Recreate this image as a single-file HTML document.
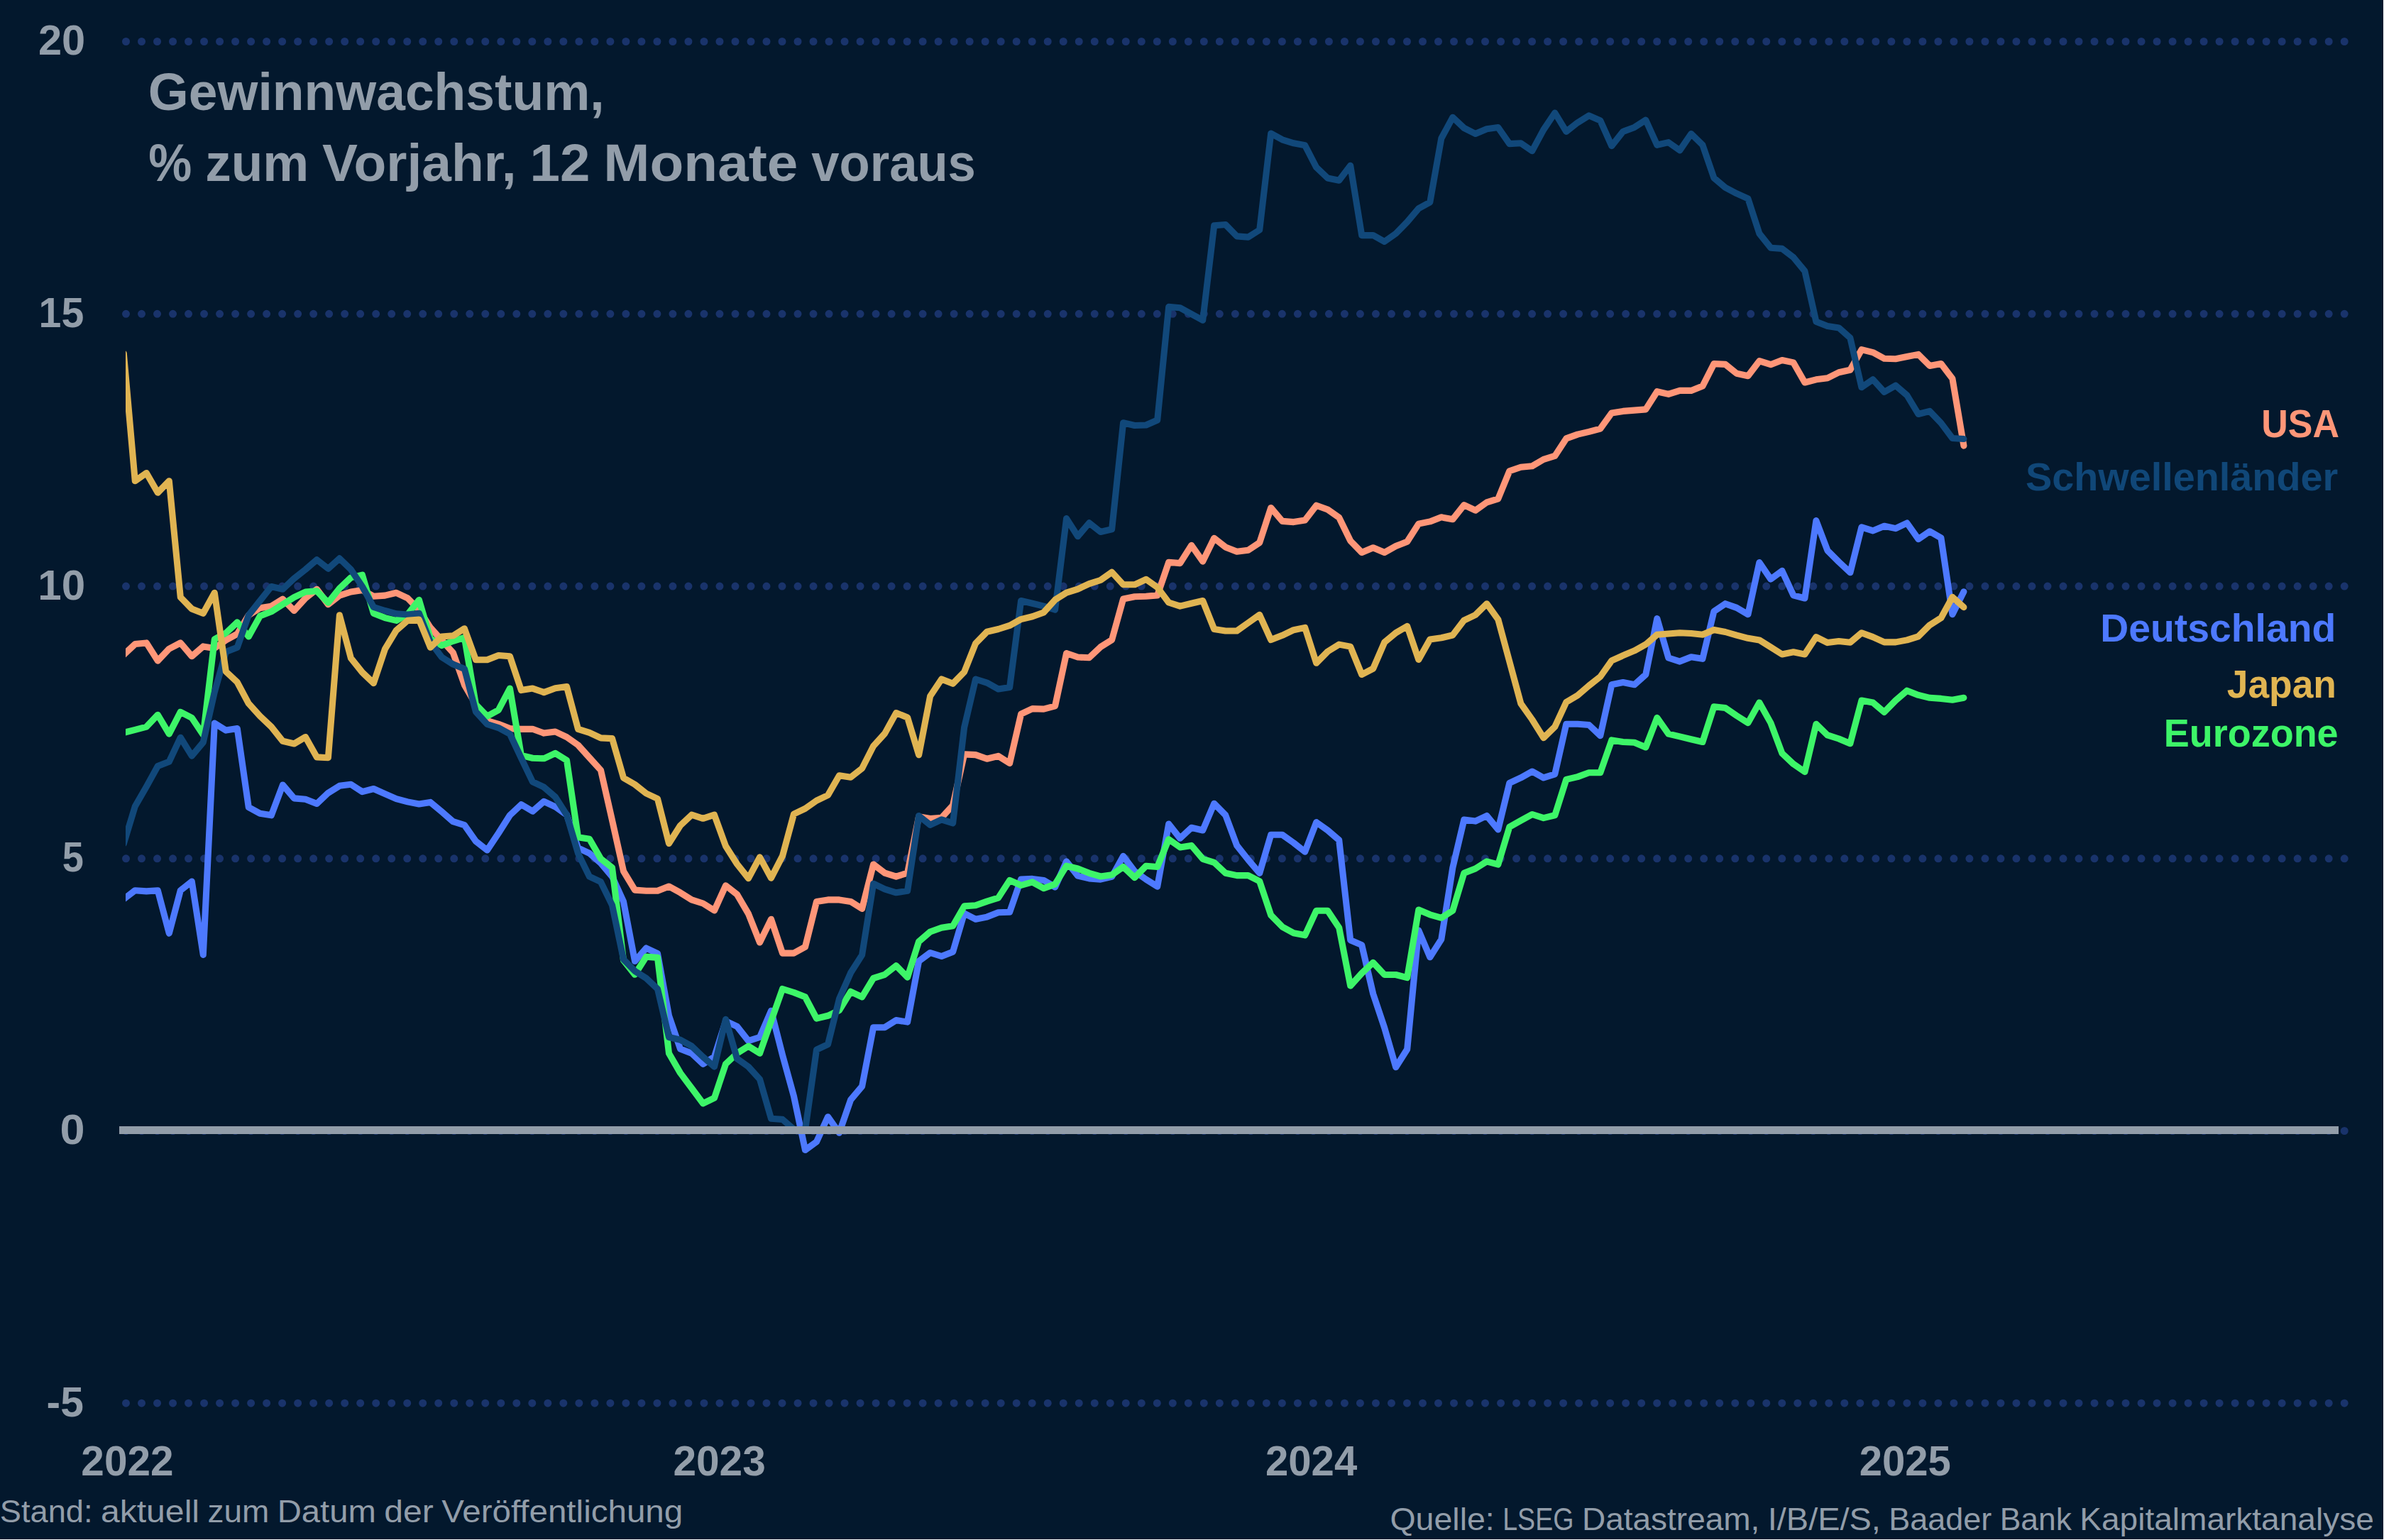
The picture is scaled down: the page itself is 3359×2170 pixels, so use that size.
<!DOCTYPE html>
<html lang="de"><head><meta charset="utf-8"><title>Gewinnwachstum</title>
<style>
html,body{margin:0;padding:0;background:#fff;}
body{width:3359px;height:2170px;overflow:hidden;}
svg{display:block;}
text{font-family:"Liberation Sans",sans-serif;fill:#929da9;}
.b{font-weight:bold;}
.ln{fill:none;stroke-width:9.1;stroke-linejoin:round;stroke-linecap:round;}
</style></head><body>
<svg width="3359" height="2170" viewBox="0 0 3359 2170">
<rect x="0" y="0" width="3359" height="2170" fill="#ffffff"/>
<rect x="0" y="0" width="3358" height="2169" fill="#03182d"/>
<defs><clipPath id="plot"><rect x="177" y="0" width="3130" height="2100"/></clipPath></defs>

<g stroke="#19336b" stroke-width="11" stroke-linecap="round" stroke-dasharray="0 22.012" fill="none">
<path d="M177.5 58.5H3304"/>
<path d="M177.5 442.3H3304"/>
<path d="M177.5 826.1H3304"/>
<path d="M177.5 1209.8H3304"/>
<path d="M177.5 1593.5H3304"/>
<path d="M177.5 1977.2H3304"/>
</g>
<g clip-path="url(#plot)">
<polyline class="ln" stroke="#ff9678" points="174.3,922.6 190.3,907.6 206.3,905.9 222.3,931.1 238.3,914.2 254.3,905.9 270.3,924.8 286.3,910.9 302.3,913.4 318.3,902.1 334.3,893.3 350.3,866.8 366.3,856.7 382.3,854.2 398.4,844.1 414.4,860.5 430.4,842.9 446.4,830.3 462.4,851.7 478.4,839.1 494.4,834.0 510.4,831.5 526.4,840.3 542.4,839.1 558.4,835.3 574.4,842.9 590.4,859.2 606.4,884.4 622.4,902.1 638.4,919.7 654.4,965.1 670.4,992.8 686.4,1015.5 702.4,1020.3 718.4,1026.6 734.4,1027.4 750.4,1027.3 766.4,1033.1 782.4,1031.0 798.5,1038.6 814.5,1049.9 830.5,1067.6 846.5,1085.2 862.5,1155.8 878.5,1227.6 894.5,1254.1 910.5,1255.3 926.5,1255.3 942.5,1249.0 958.5,1257.8 974.5,1267.9 990.5,1273.0 1006.5,1283.0 1022.5,1247.8 1038.5,1260.4 1054.5,1287.6 1070.5,1328.0 1086.5,1295.2 1102.5,1343.1 1118.5,1343.1 1134.5,1334.3 1150.5,1270.4 1166.5,1267.9 1182.5,1267.9 1198.6,1270.4 1214.6,1280.5 1230.6,1218.0 1246.6,1230.1 1262.6,1235.2 1278.6,1230.1 1294.6,1150.7 1310.6,1153.6 1326.6,1152.3 1342.6,1134.7 1358.6,1062.9 1374.6,1063.6 1390.6,1069.2 1406.6,1065.4 1422.6,1075.5 1438.6,1006.2 1454.6,998.6 1470.6,999.1 1486.6,994.8 1502.6,920.5 1518.6,926.0 1534.6,926.8 1550.6,911.7 1566.6,901.6 1582.6,844.0 1598.7,840.7 1614.7,840.2 1630.7,838.9 1646.7,792.3 1662.7,793.6 1678.7,768.4 1694.7,791.1 1710.7,758.3 1726.7,770.9 1742.7,777.2 1758.7,775.2 1774.7,764.6 1790.7,715.5 1806.7,734.4 1822.7,735.6 1838.7,733.1 1854.7,712.2 1870.7,718.0 1886.7,729.3 1902.7,762.1 1918.7,778.5 1934.7,771.7 1950.7,778.5 1966.7,769.6 1982.7,763.3 1998.8,738.1 2014.8,734.9 2030.8,728.8 2046.8,731.8 2062.8,711.7 2078.8,719.2 2094.8,707.9 2110.8,702.9 2126.8,663.8 2142.8,658.3 2158.8,656.7 2174.8,647.4 2190.8,642.4 2206.8,617.9 2222.8,612.1 2238.8,608.4 2254.8,604.1 2270.8,581.9 2286.8,579.4 2302.8,578.1 2318.8,576.9 2334.8,551.7 2350.8,555.4 2366.8,550.4 2382.8,550.4 2398.9,544.1 2414.9,512.6 2430.9,513.4 2446.9,526.3 2462.9,529.7 2478.9,508.7 2494.9,513.7 2510.9,507.5 2526.9,510.9 2542.9,539.0 2558.9,534.8 2574.9,532.7 2590.9,524.7 2606.9,521.3 2622.9,492.7 2638.9,496.6 2654.9,505.3 2670.9,505.7 2686.9,502.5 2702.9,499.4 2718.9,515.4 2734.9,512.5 2750.9,533.4 2766.9,628.1"/>
<polyline class="ln" stroke="#4d79ff" points="174.3,1267.0 190.3,1254.7 206.3,1255.9 222.3,1254.7 238.3,1315.2 254.3,1254.7 270.3,1242.1 286.3,1345.4 302.3,1019.1 318.3,1029.1 334.3,1026.6 350.3,1137.5 366.3,1146.3 382.3,1148.8 398.4,1106.0 414.4,1124.9 430.4,1126.2 446.4,1132.5 462.4,1117.3 478.4,1107.3 494.4,1105.2 510.4,1115.6 526.4,1111.5 542.4,1118.6 558.4,1125.7 574.4,1129.9 590.4,1133.0 606.4,1130.4 622.4,1143.8 638.4,1157.7 654.4,1162.7 670.4,1185.4 686.4,1198.0 702.4,1174.0 718.4,1148.8 734.4,1133.7 750.4,1143.2 766.4,1129.3 782.4,1136.9 798.5,1148.2 814.5,1194.8 830.5,1202.4 846.5,1216.3 862.5,1235.2 878.5,1270.5 894.5,1354.4 910.5,1336.0 926.5,1343.6 942.5,1431.3 958.5,1477.9 974.5,1484.2 990.5,1499.3 1006.5,1489.2 1022.5,1438.8 1038.5,1446.4 1054.5,1466.6 1070.5,1461.5 1086.5,1424.2 1102.5,1486.7 1118.5,1544.7 1134.5,1620.5 1150.5,1608.9 1166.5,1573.7 1182.5,1596.3 1198.6,1549.7 1214.6,1530.8 1230.6,1447.7 1246.6,1447.7 1262.6,1437.6 1278.6,1440.1 1294.6,1354.4 1310.6,1342.5 1326.6,1347.5 1342.6,1341.2 1358.6,1287.0 1374.6,1295.3 1390.6,1292.1 1406.6,1285.8 1422.6,1285.3 1438.6,1239.1 1454.6,1238.4 1470.6,1240.4 1486.6,1250.0 1502.6,1213.9 1518.6,1234.1 1534.6,1237.9 1550.6,1239.1 1566.6,1235.4 1582.6,1206.4 1598.7,1227.8 1614.7,1239.1 1630.7,1249.2 1646.7,1161.1 1662.7,1181.3 1678.7,1166.2 1694.7,1170.0 1710.7,1132.2 1726.7,1148.5 1742.7,1191.4 1758.7,1211.5 1774.7,1230.4 1790.7,1176.3 1806.7,1176.3 1822.7,1187.6 1838.7,1200.2 1854.7,1158.6 1870.7,1170.0 1886.7,1183.8 1902.7,1324.8 1918.7,1331.6 1934.7,1400.4 1950.7,1448.3 1966.7,1503.7 1982.7,1478.5 1998.8,1311.0 2014.8,1348.8 2030.8,1323.6 2046.8,1222.8 2062.8,1155.1 2078.8,1157.1 2094.8,1149.5 2110.8,1168.9 2126.8,1103.4 2142.8,1095.9 2158.8,1087.0 2174.8,1095.9 2190.8,1090.8 2206.8,1020.3 2222.8,1020.3 2238.8,1021.5 2254.8,1036.6 2270.8,964.8 2286.8,961.5 2302.8,964.8 2318.8,950.5 2334.8,871.6 2350.8,927.0 2366.8,932.1 2382.8,925.8 2398.9,928.3 2414.9,861.5 2430.9,850.7 2446.9,856.4 2462.9,865.7 2478.9,792.5 2494.9,816.1 2510.9,804.3 2526.9,838.8 2542.9,843.0 2558.9,733.6 2574.9,775.7 2590.9,791.7 2606.9,806.8 2622.9,742.9 2638.9,747.9 2654.9,741.2 2670.9,744.6 2686.9,737.0 2702.9,759.7 2718.9,748.8 2734.9,758.0 2750.9,865.7 2766.9,833.7"/>
<polyline class="ln" stroke="#3df568" points="174.3,1032.5 190.3,1028.4 206.3,1024.1 222.3,1007.2 238.3,1034.2 254.3,1003.2 270.3,1011.5 286.3,1035.4 302.3,900.8 318.3,892.0 334.3,876.9 350.3,897.0 366.3,868.1 382.3,861.8 398.4,851.7 414.4,841.6 430.4,834.0 446.4,832.8 462.4,849.2 478.4,829.0 494.4,813.9 510.4,810.1 526.4,864.3 542.4,870.6 558.4,874.4 574.4,865.5 590.4,845.4 606.4,899.6 622.4,909.6 638.4,903.3 654.4,898.3 670.4,992.8 686.4,1009.2 702.4,1000.4 718.4,970.1 734.4,1064.4 750.4,1068.2 766.4,1068.8 782.4,1061.3 798.5,1071.4 814.5,1179.7 830.5,1182.2 846.5,1210.0 862.5,1222.6 878.5,1353.2 894.5,1373.3 910.5,1348.1 926.5,1349.4 942.5,1484.2 958.5,1511.9 974.5,1533.3 990.5,1554.8 1006.5,1547.2 1022.5,1499.3 1038.5,1484.2 1054.5,1474.1 1070.5,1484.2 1086.5,1438.8 1102.5,1393.5 1118.5,1398.5 1134.5,1404.8 1150.5,1435.1 1166.5,1431.3 1182.5,1423.7 1198.6,1397.3 1214.6,1404.8 1230.6,1378.4 1246.6,1373.3 1262.6,1360.7 1278.6,1377.1 1294.6,1326.7 1310.6,1313.0 1326.6,1307.2 1342.6,1304.7 1358.6,1276.9 1374.6,1275.7 1390.6,1270.1 1406.6,1265.1 1422.6,1240.4 1438.6,1247.5 1454.6,1242.9 1470.6,1251.7 1486.6,1245.9 1502.6,1220.2 1518.6,1224.0 1534.6,1230.3 1550.6,1234.9 1566.6,1232.8 1582.6,1221.5 1598.7,1236.6 1614.7,1220.2 1630.7,1221.5 1646.7,1182.6 1662.7,1193.9 1678.7,1191.4 1694.7,1210.3 1710.7,1215.3 1726.7,1230.3 1742.7,1233.6 1758.7,1233.6 1774.7,1241.7 1790.7,1289.5 1806.7,1305.9 1822.7,1314.7 1838.7,1317.8 1854.7,1283.2 1870.7,1283.2 1886.7,1307.2 1902.7,1389.1 1918.7,1371.4 1934.7,1356.3 1950.7,1373.5 1966.7,1373.5 1982.7,1377.7 1998.8,1282.0 2014.8,1288.8 2030.8,1293.3 2046.8,1283.2 2062.8,1230.3 2078.8,1224.0 2094.8,1213.9 2110.8,1218.2 2126.8,1165.2 2142.8,1156.3 2158.8,1147.5 2174.8,1152.6 2190.8,1148.8 2206.8,1098.4 2222.8,1094.6 2238.8,1088.8 2254.8,1088.8 2270.8,1042.9 2286.8,1045.5 2302.8,1046.2 2318.8,1053.0 2334.8,1011.4 2350.8,1034.1 2366.8,1037.9 2382.8,1041.7 2398.9,1045.5 2414.9,995.8 2430.9,997.6 2446.9,1008.5 2462.9,1018.6 2478.9,990.0 2494.9,1018.6 2510.9,1061.5 2526.9,1076.6 2542.9,1087.6 2558.9,1020.3 2574.9,1035.9 2590.9,1041.0 2606.9,1047.7 2622.9,987.1 2638.9,990.0 2654.9,1003.4 2670.9,987.0 2686.9,973.2 2702.9,979.4 2718.9,983.3 2734.9,984.4 2750.9,986.3 2766.9,983.3"/>
<polyline class="ln" stroke="#11487a" points="174.3,1189.0 190.3,1136.2 206.3,1108.5 222.3,1079.5 238.3,1073.2 254.3,1039.2 270.3,1065.2 286.3,1046.0 302.3,975.2 318.3,918.5 334.3,912.2 350.3,866.8 366.3,846.6 382.3,826.5 398.4,830.3 414.4,815.1 430.4,802.5 446.4,788.7 462.4,801.3 478.4,786.9 494.4,802.5 510.4,826.5 526.4,855.5 542.4,860.5 558.4,864.8 574.4,866.0 590.4,864.3 606.4,904.6 622.4,926.0 638.4,936.1 654.4,942.4 670.4,1002.9 686.4,1020.5 702.4,1025.6 718.4,1034.2 734.4,1068.2 750.4,1101.6 766.4,1109.2 782.4,1123.0 798.5,1148.2 814.5,1202.4 830.5,1235.2 846.5,1242.7 862.5,1275.5 878.5,1351.9 894.5,1368.3 910.5,1378.4 926.5,1393.5 942.5,1461.5 958.5,1465.3 974.5,1474.1 990.5,1489.2 1006.5,1503.1 1022.5,1436.3 1038.5,1491.8 1054.5,1503.1 1070.5,1520.7 1086.5,1576.2 1102.5,1577.4 1118.5,1591.3 1134.5,1592.0 1150.5,1479.2 1166.5,1471.6 1182.5,1407.3 1198.6,1370.8 1214.6,1345.6 1230.6,1245.2 1246.6,1252.8 1262.6,1257.8 1278.6,1255.3 1294.6,1149.5 1310.6,1162.4 1326.6,1154.8 1342.6,1159.9 1358.6,1025.1 1374.6,957.0 1390.6,962.1 1406.6,970.9 1422.6,968.4 1438.6,846.5 1454.6,850.3 1470.6,854.1 1486.6,859.1 1502.6,730.6 1518.6,755.8 1534.6,736.9 1550.6,749.5 1566.6,745.7 1582.6,595.8 1598.7,599.5 1614.7,599.0 1630.7,592.0 1646.7,432.4 1662.7,433.7 1678.7,442.5 1694.7,451.3 1710.7,317.7 1726.7,316.5 1742.7,332.9 1758.7,334.1 1774.7,324.0 1790.7,188.0 1806.7,196.8 1822.7,201.8 1838.7,204.8 1854.7,235.8 1870.7,251.0 1886.7,254.2 1902.7,233.3 1918.7,331.6 1934.7,331.6 1950.7,340.4 1966.7,329.1 1982.7,312.7 1998.8,293.8 2014.8,285.0 2030.8,195.0 2046.8,165.3 2062.8,180.4 2078.8,188.5 2094.8,181.7 2110.8,179.6 2126.8,202.6 2142.8,201.8 2158.8,212.7 2174.8,182.9 2190.8,159.0 2206.8,185.4 2222.8,172.8 2238.8,162.8 2254.8,169.8 2270.8,205.6 2286.8,185.4 2302.8,179.4 2318.8,169.1 2334.8,204.3 2350.8,200.6 2366.8,211.9 2382.8,188.5 2398.9,204.3 2414.9,250.8 2430.9,264.3 2446.9,272.7 2462.9,279.9 2478.9,329.1 2494.9,349.2 2510.9,350.4 2526.9,362.7 2542.9,382.0 2558.9,453.2 2574.9,459.4 2590.9,461.9 2606.9,476.2 2622.9,545.7 2638.9,534.8 2654.9,552.4 2670.9,543.2 2686.9,557.0 2702.9,583.5 2718.9,579.3 2734.9,596.1 2750.9,617.5 2766.9,618.5"/>
<polyline class="ln" stroke="#e0b452" points="174.3,498.0 190.3,677.8 206.3,666.5 222.3,694.2 238.3,677.8 254.3,841.6 270.3,858.0 286.3,864.3 302.3,835.3 318.3,946.2 334.3,961.3 350.3,991.3 366.3,1009.0 382.3,1024.1 398.4,1044.3 414.4,1048.0 430.4,1038.5 446.4,1066.9 462.4,1067.7 478.4,866.8 494.4,927.3 510.4,947.4 526.4,962.6 542.4,914.7 558.4,888.2 574.4,874.4 590.4,873.1 606.4,912.2 622.4,897.0 638.4,895.8 654.4,885.7 670.4,929.8 686.4,929.8 702.4,923.5 718.4,924.8 734.4,972.6 750.4,970.1 766.4,975.6 782.4,969.8 798.5,967.5 814.5,1027.3 830.5,1032.3 846.5,1039.9 862.5,1040.6 878.5,1096.1 894.5,1105.4 910.5,1118.0 926.5,1125.5 942.5,1188.5 958.5,1163.3 974.5,1148.2 990.5,1153.3 1006.5,1148.2 1022.5,1192.3 1038.5,1217.5 1054.5,1237.7 1070.5,1207.9 1086.5,1237.2 1102.5,1206.2 1118.5,1147.0 1134.5,1139.4 1150.5,1128.1 1166.5,1120.5 1182.5,1092.8 1198.6,1095.3 1214.6,1082.7 1230.6,1051.2 1246.6,1033.6 1262.6,1004.6 1278.6,1010.9 1294.6,1063.8 1310.6,981.0 1326.6,957.0 1342.6,963.3 1358.6,946.9 1374.6,906.6 1390.6,890.2 1406.6,886.5 1422.6,881.4 1438.6,872.6 1454.6,868.8 1470.6,862.9 1486.6,845.2 1502.6,835.2 1518.6,830.1 1534.6,822.6 1550.6,817.5 1566.6,806.2 1582.6,823.8 1598.7,823.8 1614.7,816.3 1630.7,827.6 1646.7,849.0 1662.7,854.1 1678.7,850.3 1694.7,846.5 1710.7,886.5 1726.7,889.0 1742.7,889.0 1758.7,877.6 1774.7,866.3 1790.7,901.6 1806.7,895.3 1822.7,887.7 1838.7,884.4 1854.7,934.3 1870.7,918.0 1886.7,908.1 1902.7,911.1 1918.7,950.5 1934.7,942.1 1950.7,905.1 1966.7,891.7 1982.7,882.4 1998.8,929.5 2014.8,901.1 2030.8,898.8 2046.8,895.0 2062.8,874.1 2078.8,866.5 2094.8,850.7 2110.8,872.8 2126.8,932.1 2142.8,991.3 2158.8,1014.0 2174.8,1039.7 2190.8,1024.0 2206.8,989.3 2222.8,979.9 2238.8,966.1 2254.8,953.5 2270.8,930.8 2286.8,923.7 2302.8,916.9 2318.8,908.1 2334.8,894.3 2350.8,893.0 2366.8,891.7 2382.8,892.5 2398.9,894.3 2414.9,887.5 2430.9,890.5 2446.9,895.1 2462.9,899.3 2478.9,901.9 2494.9,911.9 2510.9,922.0 2526.9,918.7 2542.9,922.0 2558.9,897.6 2574.9,905.6 2590.9,903.5 2606.9,905.2 2622.9,891.8 2638.9,897.6 2654.9,904.9 2670.9,904.9 2686.9,901.9 2702.9,896.8 2718.9,880.8 2734.9,870.7 2750.9,841.3 2766.9,855.6"/>
</g>
<rect x="168" y="1587" width="3127" height="11" fill="#929da9"/>
<text x="53.97" y="76.9" font-size="59" class="b" textLength="66.25" lengthAdjust="spacingAndGlyphs">20</text>
<text x="54.58" y="460.7" font-size="59" class="b" textLength="63.69" lengthAdjust="spacingAndGlyphs">15</text>
<text x="53.36" y="844.5" font-size="59" class="b" textLength="66.88" lengthAdjust="spacingAndGlyphs">10</text>
<text x="87.64" y="1228.2" font-size="59" class="b" textLength="30.13" lengthAdjust="spacingAndGlyphs">5</text>
<text x="84.46" y="1611.9" font-size="59" class="b" textLength="35.04" lengthAdjust="spacingAndGlyphs">0</text>
<text x="65.6" y="1995.6" font-size="59" class="b" textLength="52.27" lengthAdjust="spacingAndGlyphs">-5</text>
<text x="114.34" y="2079.0" font-size="59" class="b" textLength="130.21" lengthAdjust="spacingAndGlyphs">2022</text>
<text x="948.42" y="2079.0" font-size="59" class="b" textLength="130.45" lengthAdjust="spacingAndGlyphs">2023</text>
<text x="1782.94" y="2079.0" font-size="59" class="b" textLength="129.38" lengthAdjust="spacingAndGlyphs">2024</text>
<text x="2619.73" y="2079.0" font-size="59" class="b" textLength="129.2" lengthAdjust="spacingAndGlyphs">2025</text>
<text x="208.78" y="155.3" font-size="74" class="b" textLength="642.89" lengthAdjust="spacingAndGlyphs">Gewinnwachstum,</text>
<text y="255.4" font-size="74" class="b"><tspan x="209.19" textLength="61.07" lengthAdjust="spacingAndGlyphs">%</tspan> <tspan x="289.2" textLength="145.99" lengthAdjust="spacingAndGlyphs">zum</tspan> <tspan x="454.12" textLength="273.41" lengthAdjust="spacingAndGlyphs">Vorjahr,</tspan> <tspan x="746.47" textLength="84.92" lengthAdjust="spacingAndGlyphs">12</tspan> <tspan x="850.33" textLength="273.98" lengthAdjust="spacingAndGlyphs">Monate</tspan> <tspan x="1143.25" textLength="231.56" lengthAdjust="spacingAndGlyphs">voraus</tspan></text>
<text x="3186.28" y="616.3" font-size="55" class="b" textLength="109.79" lengthAdjust="spacingAndGlyphs" style="fill:#ff9678">USA</text>
<text x="2853.98" y="690.6" font-size="55" class="b" textLength="440.24" lengthAdjust="spacingAndGlyphs" style="fill:#104778">Schwellenländer</text>
<text x="2959.29" y="904.1" font-size="55" class="b" textLength="331.96" lengthAdjust="spacingAndGlyphs" style="fill:#4d79ff">Deutschland</text>
<text x="3137.79" y="982.9" font-size="55" class="b" textLength="154.12" lengthAdjust="spacingAndGlyphs" style="fill:#e1b552">Japan</text>
<text x="3048.72" y="1052.2" font-size="55" class="b" textLength="245.91" lengthAdjust="spacingAndGlyphs" style="fill:#3df568">Eurozone</text>
<text y="2145.4" font-size="43.5"><tspan x="-0.21" textLength="130.69" lengthAdjust="spacingAndGlyphs">Stand:</tspan> <tspan x="141.93" textLength="139.1" lengthAdjust="spacingAndGlyphs">aktuell</tspan> <tspan x="292.49" textLength="86.86" lengthAdjust="spacingAndGlyphs">zum</tspan> <tspan x="390.79" textLength="139.02" lengthAdjust="spacingAndGlyphs">Datum</tspan> <tspan x="541.27" textLength="69.49" lengthAdjust="spacingAndGlyphs">der</tspan> <tspan x="622.21" textLength="339.99" lengthAdjust="spacingAndGlyphs">Veröffentlichung</tspan></text>
<text y="2155.5" font-size="43.5"><tspan x="1958.4" textLength="147.39" lengthAdjust="spacingAndGlyphs">Quelle:</tspan> <tspan x="2117.2" textLength="100.32" lengthAdjust="spacingAndGlyphs">LSEG</tspan> <tspan x="2228.93" textLength="250.47" lengthAdjust="spacingAndGlyphs">Datastream,</tspan> <tspan x="2490.81" textLength="159.1" lengthAdjust="spacingAndGlyphs">I/B/E/S,</tspan> <tspan x="2661.31" textLength="145.05" lengthAdjust="spacingAndGlyphs">Baader</tspan> <tspan x="2817.78" textLength="101.1" lengthAdjust="spacingAndGlyphs">Bank</tspan> <tspan x="2930.29" textLength="414.52" lengthAdjust="spacingAndGlyphs">Kapitalmarktanalyse</tspan></text>
</svg>
</body></html>
